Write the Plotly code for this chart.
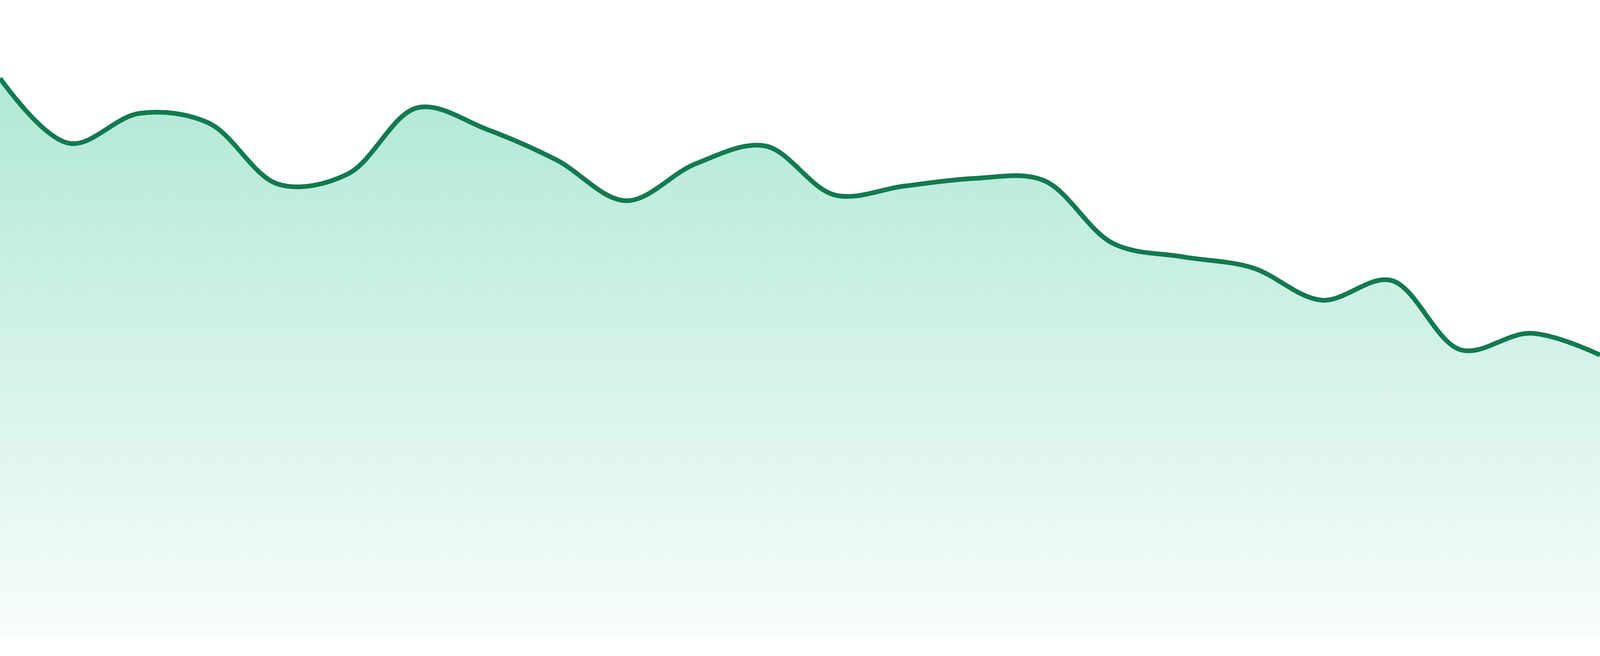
import plotly.graph_objects as go

# one value per step
steps = list(range(24))
values = [87.7, 77.5, 82.2, 80.7, 71.1, 72.7, 83.1, 79.7, 74.9, 68.5, 74.3, 77.1,
          69.4, 70.8, 72.0, 71.7, 61.8, 59.7, 58.0, 52.9, 56.0, 45.1, 47.7, 44.3]

line_color = '#127a50'

area = go.Scatter(
    x=steps,
    y=values,
    mode='lines',
    line=dict(color=line_color, width=12, shape='spline', smoothing=1.0),
    fill='tozeroy',
    fillgradient=dict(
        type='vertical',
        start=0,
        stop=max(values),
        colorscale=[[0, 'rgba(16,185,129,0.03)'], [1, 'rgba(16,185,129,0.33)']]),
    hoverinfo='skip',
    showlegend=False)

# no margins, the strip under the baseline comes from the y range
layout = dict(
    autosize=True,
    margin=dict(l=0, r=0, t=0, b=0, pad=0),
    paper_bgcolor='white',
    plot_bgcolor='white',
    xaxis=dict(visible=False, range=[0, 23], fixedrange=True),
    yaxis=dict(visible=False, range=[-2.94, 100], fixedrange=True),
)

fig = go.Figure(data=[area], layout=layout)

fit_page = """
document.documentElement.style.margin = '0';
document.body.style.margin = '0';
document.body.style.overflow = 'hidden';
var gd = document.getElementById('{plot_id}');
Plotly.Plots.resize(gd);
"""

fig.write_html("out.html", config=dict(displayModeBar=False, responsive=True),
               default_width='100vw', default_height='100vh', post_script=fit_page)
